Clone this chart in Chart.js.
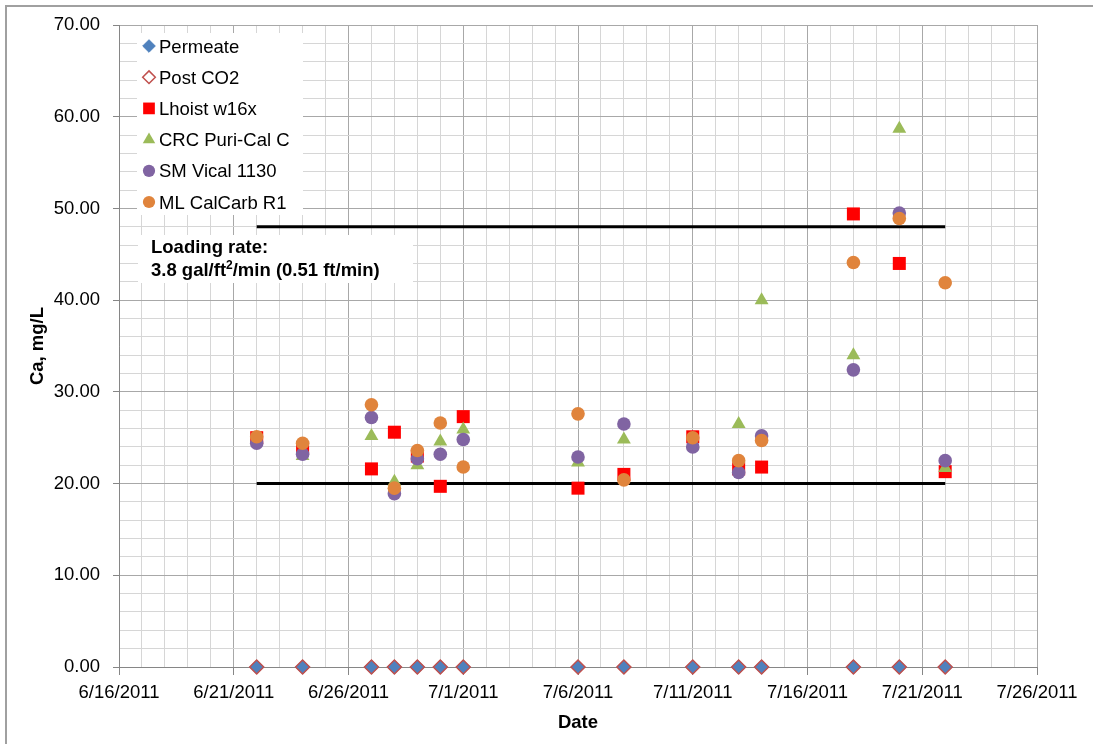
<!DOCTYPE html>
<html>
<head>
<meta charset="utf-8">
<script src="https://cdn.jsdelivr.net/npm/chart.js@4/dist/chart.umd.min.js"></script>
<style>
  body { margin: 0; background: #fff; }
  #wrap { width: 1093px; height: 744px; }
</style>
</head>
<body>
<div id="wrap"><canvas id="ca-chart" width="1093" height="744"></canvas></div>
<script>
// Sample dates and Ca results (mg/L) per media
const sampleDates = ['6/22/2011', '6/24/2011', '6/27/2011', '6/28/2011', '6/29/2011', '6/30/2011', '7/1/2011',
    '7/6/2011', '7/8/2011', '7/11/2011', '7/13/2011', '7/14/2011', '7/18/2011', '7/20/2011', '7/22/2011'];
const permeate = [0, 0, 0, 0, 0, 0, 0, 0, 0, 0, 0, 0, 0, 0, 0];
const postCO2  = [0, 0, 0, 0, 0, 0, 0, 0, 0, 0, 0, 0, 0, 0, 0];
const lhoist   = [25.0, 23.9, 21.6, 25.6, 23.0, 19.7, 27.3, 19.5, 21.0, 25.1, 21.6, 21.8, 49.4, 44.0, 21.3];
const crc      = [null, 23.0, 25.2, 20.2, 22.0, 24.6, 25.9, 22.3, 24.8, 24.3, 26.5, 40.0, 34.0, 58.7, 21.7];
const smVical  = [24.4, 23.2, 27.2, 18.9, 22.7, 23.2, 24.8, 22.9, 26.5, 24.0, 21.2, 25.2, 32.4, 49.5, 22.5];
const mlCalCarb = [25.1, 24.4, 28.6, 19.5, 23.6, 26.6, 21.8, 27.6, 20.4, 25.0, 22.5, 24.7, 44.1, 48.9, 41.9];

// target band lines
const bandDates = ['6/22/2011', '7/22/2011'];
const bandLow = 20;
const bandHigh = 48;

const axisStart = '6/16/2011';
const axisEnd = '7/26/2011';
const labelEveryDays = 5;

const FONT = '"Liberation Sans", Arial, sans-serif';
const FS = 18.5;

function toDay(s) {
    const [m, d, y] = s.split('/').map(Number);
    return Date.UTC(y, m - 1, d) / 86400000;
}
function fromDay(n) {
    const dt = new Date(n * 86400000);
    return (dt.getUTCMonth() + 1) + '/' + dt.getUTCDate() + '/' + dt.getUTCFullYear();
}
function points(values) {
    return sampleDates.map((d, i) => ({ x: toDay(d), y: values[i] })).filter(p => p.y !== null);
}

const xMin = toDay(axisStart);
const xMax = toDay(axisEnd);
const isMajorX = v => (Math.round(v) - xMin) % labelEveryDays === 0;
const isMajorY = v => Math.round(v) % 10 === 0;

const series = [
    { label: 'Permeate', data: permeate, style: 'rectRot', r: 7, fill: '#4f81bd', stroke: '#4f81bd', bw: 1 },
    { label: 'Post CO2', data: postCO2, style: 'rectRot', r: 7, fill: 'rgba(0,0,0,0)', stroke: '#c0504d', bw: 1.5 },
    { label: 'Lhoist w16x', data: lhoist, style: 'rect', r: 9.2, fill: '#ff0000', stroke: '#ff0000', bw: 0 },
    { label: 'CRC Puri-Cal C', data: crc, style: 'triangle', r: 8, fill: '#9bbb59', stroke: '#9bbb59', bw: 0 },
    { label: 'SM Vical 1130', data: smVical, style: 'circle', r: 6.8, fill: '#8064a2', stroke: '#8064a2', bw: 0 },
    { label: 'ML CalCarb R1', data: mlCalCarb, style: 'circle', r: 6.8, fill: '#e0843c', stroke: '#e0843c', bw: 0 }
];

function drawMarker(ctx, s, x, y, r) {
    ctx.beginPath();
    if (s.style === 'rectRot') {
        ctx.moveTo(x, y - r); ctx.lineTo(x + r, y); ctx.lineTo(x, y + r); ctx.lineTo(x - r, y); ctx.closePath();
    } else if (s.style === 'rect') {
        const h = r * Math.SQRT1_2;
        ctx.rect(x - h, y - h, 2 * h, 2 * h);
    } else if (s.style === 'triangle') {
        ctx.moveTo(x, y - r);
        ctx.lineTo(x + r * 0.866, y + r * 0.5);
        ctx.lineTo(x - r * 0.866, y + r * 0.5);
        ctx.closePath();
    } else {
        ctx.arc(x, y, r, 0, Math.PI * 2);
    }
    ctx.fillStyle = s.fill;
    ctx.fill();
    if (s.bw) {
        ctx.lineWidth = s.bw;
        ctx.strokeStyle = s.stroke;
        ctx.stroke();
    }
}

// white page + outer frame
const frame = {
    id: 'frame',
    beforeDraw(chart) {
        const ctx = chart.ctx;
        ctx.save();
        ctx.fillStyle = '#fff';
        ctx.fillRect(0, 0, chart.width, chart.height);
        ctx.strokeStyle = '#a0a0a0';
        ctx.lineWidth = 2;
        ctx.strokeRect(6, 6, chart.width + 20, chart.height + 20);
        ctx.restore();
    }
};

// legend and text box sit inside the plot area
const overlay = {
    id: 'overlay',
    afterDatasetsDraw(chart) {
        const ctx = chart.ctx;
        const a = chart.chartArea;
        ctx.save();
        // legend
        const lx = a.left + 18, ly = a.top + 8;
        ctx.fillStyle = '#fff';
        ctx.fillRect(lx, ly, 166, 182);
        ctx.font = FS + 'px ' + FONT;
        ctx.textBaseline = 'alphabetic';
        series.forEach((s, i) => {
            const cy = ly + 13 + i * 31.2;
            drawMarker(ctx, s, lx + 12, cy, s.r * 0.9);
            ctx.fillStyle = '#000';
            ctx.fillText(s.label, lx + 22, cy + 6.5);
        });
        // loading rate note
        const tx = a.left + 19, ty = a.top + 210;
        ctx.fillStyle = '#fff';
        ctx.fillRect(tx, ty, 275, 48);
        ctx.fillStyle = '#000';
        ctx.font = 'bold ' + FS + 'px ' + FONT;
        ctx.fillText('Loading rate:', tx + 13, ty + 18);
        let x = tx + 13;
        const base = ty + 41;
        ctx.fillText('3.8 gal/ft', x, base);
        x += ctx.measureText('3.8 gal/ft').width;
        ctx.font = 'bold 12px ' + FONT;
        ctx.fillText('2', x, base - 7);
        x += ctx.measureText('2').width;
        ctx.font = 'bold ' + FS + 'px ' + FONT;
        ctx.fillText('/min (0.51 ft/min)', x, base);
        ctx.restore();
    }
};

const datasets = series.map((s, i) => ({
    label: s.label,
    data: points(s.data),
    pointStyle: s.style,
    pointRadius: s.r,
    pointHoverRadius: s.r,
    pointBackgroundColor: s.fill,
    pointBorderColor: s.stroke,
    pointBorderWidth: s.bw,
    backgroundColor: s.fill,
    borderColor: s.stroke,
    showLine: false,
    clip: false,
    order: series.length - i
}));

[bandLow, bandHigh].forEach(v => {
    datasets.push({
        label: 'limit ' + v,
        data: bandDates.map(d => ({ x: toDay(d), y: v })),
        showLine: true,
        borderColor: '#000',
        borderWidth: 3,
        pointRadius: 0,
        order: 20
    });
});

Chart.defaults.font.family = FONT;
Chart.defaults.font.size = FS;
Chart.defaults.color = '#000';

const ctx = document.getElementById('ca-chart').getContext('2d');
new Chart(ctx, {
    type: 'scatter',
    data: { datasets: datasets },
    plugins: [frame, overlay],
    options: {
        responsive: false,
        animation: false,
        layout: { padding: { left: 0, top: 25, right: 56, bottom: 0 } },
        plugins: {
            legend: { display: false },
            tooltip: { enabled: false }
        },
        scales: {
            x: {
                type: 'linear',
                min: xMin,
                max: xMax,
                afterFit: scale => { scale.height = 77; },
                ticks: {
                    stepSize: 1,
                    autoSkip: false,
                    maxRotation: 0,
                    padding: 7,
                    callback: v => isMajorX(v) ? fromDay(v) : ''
                },
                grid: {
                    color: c => isMajorX(c.tick.value) ? '#a8a8a8' : '#d6d6d6',
                    tickColor: c => isMajorX(c.tick.value) ? '#868686' : 'rgba(0,0,0,0)',
                    tickLength: 8
                },
                border: { color: '#868686' },
                title: { display: true, text: 'Date', font: { weight: 'bold' }, padding: { top: 0, bottom: 10 } }
            },
            y: {
                min: 0,
                max: 70,
                afterFit: scale => { scale.width = 119; },
                ticks: {
                    stepSize: 2,
                    autoSkip: false,
                    padding: 13,
                    callback: v => isMajorY(v) ? v.toFixed(2) : ''
                },
                grid: {
                    color: c => isMajorY(c.tick.value) ? '#a8a8a8' : '#d6d6d6',
                    tickColor: c => isMajorY(c.tick.value) ? '#868686' : 'rgba(0,0,0,0)',
                    tickLength: 6
                },
                border: { color: '#868686' },
                title: { display: true, text: 'Ca, mg/L', font: { weight: 'bold' }, padding: { top: 27, bottom: 0 } }
            }
        }
    }
});
</script>
</body>
</html>
